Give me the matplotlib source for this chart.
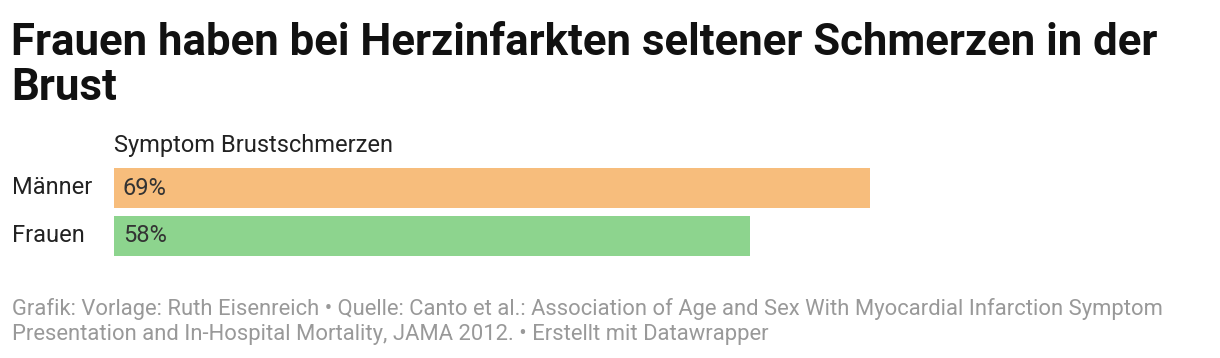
import matplotlib.pyplot as plt

# Daten
groups = ['Männer', 'Frauen']
values = [69, 58]
colors = ['#f7bd7c', '#8dd48e']

title = 'Frauen haben bei Herzinfarkten seltener Schmerzen in der\nBrust'
column_label = 'Symptom Brustschmerzen'
footer = ('Grafik: Vorlage: Ruth Eisenreich • Quelle: Canto et al.: Association of Age and Sex With Myocardial Infarction Symptom\n'
          'Presentation and In-Hospital Mortality, JAMA 2012. • Erstellt mit Datawrapper')

W, H = 1220, 358
plt.rcParams['font.family'] = ['Roboto', 'DejaVu Sans']

fig = plt.figure(figsize=(W / 100, H / 100), dpi=100)
ax = fig.add_axes([114 / W, 1 - 260 / H, 1096 / W, 96 / H])

ax.barh(range(len(groups)), values, height=40 / 48, color=colors)
ax.set_xlim(0, 100)
ax.set_ylim(1.5, -0.5)
ax.axis('off')

for i, (g, v) in enumerate(zip(groups, values)):
    ax.text(0.8, i, f'{v}%', va='center', ha='left', fontsize=17, color='#333333')
    fig.text(12 / W, 1 - (188 + 48 * i) / H, g, va='center', ha='left', fontsize=17, color='#222222')

fig.text(11 / W, 1 - 100 / H, title, fontsize=31.5, fontweight='bold', color='#111111',
         va='baseline', ha='left', linespacing=1.1)
fig.text(114 / W, 1 - 152 / H, column_label, fontsize=17, color='#222222', va='baseline', ha='left')
fig.text(12 / W, 1 - 340 / H, footer, fontsize=15.8, color='#999999', va='baseline', ha='left',
         linespacing=1.22)

fig.savefig('out.png', dpi=100)
